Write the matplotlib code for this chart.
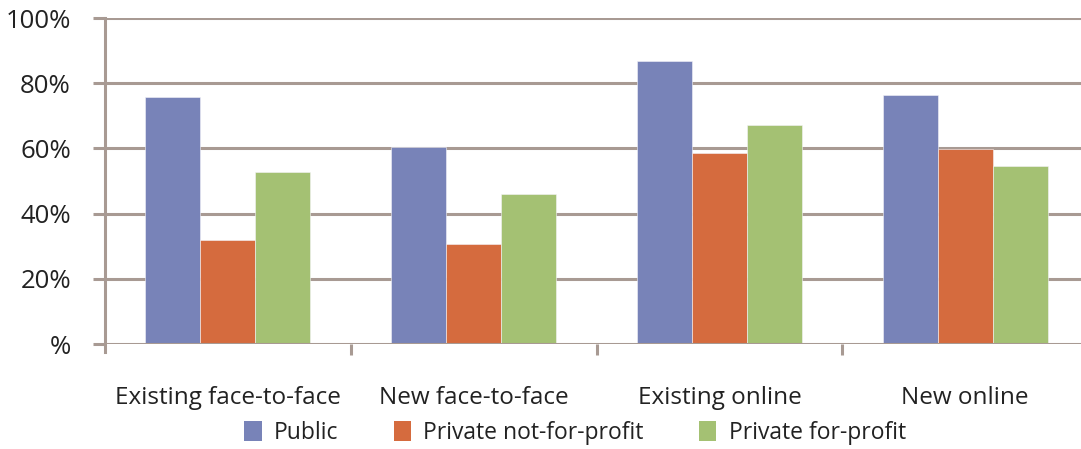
import matplotlib
matplotlib.use("Agg")
import matplotlib.pyplot as plt
import numpy as np
from matplotlib.patches import Patch

categories = ["Existing face-to-face", "New face-to-face", "Existing online", "New online"]
series_names = ["Public", "Private not-for-profit", "Private for-profit"]
public = [75.8, 60.3, 86.7, 76.3]
private_nfp = [31.9, 30.6, 58.5, 59.7]
private_fp = [52.8, 46.0, 67.1, 54.7]
y_ticks = [0, 20, 40, 60, 80, 100]
y_tick_labels = ["%", "20%", "40%", "60%", "80%", "100%"]

colors = ["#7883B8", "#D56B3E", "#A4C173"]
grid_color = "#A89A93"
text_color = "#222222"

plt.rcParams["font.family"] = ["Open Sans", "DejaVu Sans"]

fig = plt.figure(figsize=(10.81, 4.49), dpi=100)
ax = fig.add_axes([105 / 1081, 1 - 344 / 449, (1088 - 105) / 1081, (344 - 18) / 449])

x = np.arange(len(categories))
w = 0.224
for i, vals in enumerate([public, private_nfp, private_fp]):
    ax.bar(x + (i - 1) * w, vals, width=w, color=colors[i], edgecolor="#f4f4f8",
           linewidth=0.4, zorder=3, label=series_names[i])

ax.set_xlim(-0.5, len(categories) - 0.5)
ax.set_ylim(0, 100)

for s in ["top", "right", "bottom"]:
    ax.spines[s].set_visible(False)
ax.spines["left"].set_color(grid_color)
ax.spines["left"].set_linewidth(2.2)
ax.spines["left"].set_bounds(-2.5, 100)
ax.spines["left"].set_zorder(4)

for yv in y_ticks:
    ax.axhline(yv, color=grid_color, linewidth=2.2, zorder=2 if yv else 4)

ax.set_yticks(y_ticks)
ax.set_yticklabels(y_tick_labels, fontsize=18.5, color=text_color)
ax.tick_params(axis="y", length=9, width=2.2, color=grid_color, pad=15.5)

ax.set_xticks(x)
ax.set_xticklabels(categories, fontsize=17.5, color=text_color)
ax.tick_params(axis="x", which="major", length=0, pad=30.5)
ax.set_xticks(np.arange(0.5, len(categories) - 0.5, 1), minor=True)
ax.tick_params(axis="x", which="minor", length=8, width=2.2, color=grid_color)

handles = [Patch(facecolor=c, edgecolor="none") for c in colors]
fig.legend(handles, series_names, loc="center", bbox_to_anchor=(575 / 1081, 1 - 433 / 449),
           ncol=3, frameon=False, fontsize=16.5, handlelength=0.75, handleheight=1.0,
           handletextpad=0.55, columnspacing=2.4, labelcolor=text_color,
           borderaxespad=0, borderpad=0)

fig.savefig("out.png", dpi=100)
